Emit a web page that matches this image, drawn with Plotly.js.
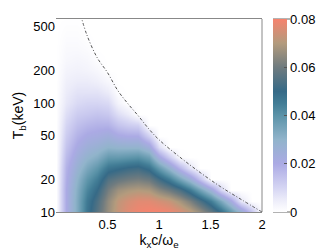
<!DOCTYPE html>
<html><head><meta charset="utf-8">
<script src="https://cdn.plot.ly/plotly-3.0.1.min.js"></script>
<style>html,body{margin:0;padding:0;background:#fff}#plot{width:332px;height:250px}</style>
</head><body><div id="plot"></div>
<script>
// k_x c / omega_e grid
const kx = [0,0.1,0.2,0.3,0.4,0.5,0.6,0.7,0.8,0.9,1.0,1.1,1.2,1.3,1.4,1.5,1.6,1.7,1.8,1.9,2.0];
// T_b (keV) grid
const Tb = [10,12.59,15.85,19.95,25.12,31.62,39.81,50.12,63.1,79.43,100,125.9,158.5,199.5,251.2,316.2,398.1,501.2,631];
// growth rate values (rows follow Tb, columns follow kx)
const growth = [
 [0,0.02,0.033,0.047,0.056,0.066,0.073,0.077,0.079,0.08,0.08,0.079,0.076,0.072,0.066,0.058,0.049,0.039,0.028,0.014,0],
 [0,0.02,0.033,0.046,0.054,0.065,0.072,0.075,0.077,0.077,0.075,0.073,0.068,0.062,0.054,0.045,0.034,0.022,0.006,0,0],
 [0,0.02,0.032,0.043,0.05,0.061,0.067,0.069,0.07,0.069,0.064,0.06,0.054,0.046,0.036,0.025,0.01,0,0,0,0],
 [0,0.019,0.03,0.039,0.045,0.055,0.058,0.06,0.061,0.059,0.052,0.045,0.035,0.026,0.014,0,0,0,0,0,0],
 [0,0.018,0.027,0.034,0.039,0.047,0.049,0.051,0.052,0.048,0.038,0.029,0.017,0.007,0,0,0,0,0,0,0],
 [0,0.016,0.024,0.029,0.032,0.038,0.038,0.039,0.04,0.036,0.022,0.012,0.001,0,0,0,0,0,0,0,0],
 [0,0.014,0.021,0.025,0.027,0.03,0.029,0.029,0.029,0.024,0.008,0,0,0,0,0,0,0,0,0,0],
 [0,0.012,0.018,0.021,0.022,0.024,0.021,0.02,0.02,0.011,0,0,0,0,0,0,0,0,0,0,0],
 [0,0.01,0.015,0.017,0.018,0.018,0.014,0.012,0.011,0,0,0,0,0,0,0,0,0,0,0,0],
 [0,0.008,0.012,0.013,0.014,0.013,0.008,0.005,0,0,0,0,0,0,0,0,0,0,0,0,0],
 [0,0.006,0.009,0.01,0.01,0.009,0.003,0,0,0,0,0,0,0,0,0,0,0,0,0,0],
 [0,0.005,0.007,0.007,0.007,0.005,0.0005,0,0,0,0,0,0,0,0,0,0,0,0,0,0],
 [0,0.004,0.005,0.005,0.004,0.002,0,0,0,0,0,0,0,0,0,0,0,0,0,0,0],
 [0,0.003,0.0035,0.003,0.002,0,0,0,0,0,0,0,0,0,0,0,0,0,0,0,0],
 [0,0.002,0.0025,0.002,0.0005,0,0,0,0,0,0,0,0,0,0,0,0,0,0,0,0],
 [0,0.0015,0.0015,0.001,0,0,0,0,0,0,0,0,0,0,0,0,0,0,0,0,0],
 [0,0.001,0.001,0.0003,0,0,0,0,0,0,0,0,0,0,0,0,0,0,0,0,0],
 [0,0.0005,0.0005,0,0,0,0,0,0,0,0,0,0,0,0,0,0,0,0,0,0],
 [0,0,0,0,0,0,0,0,0,0,0,0,0,0,0,0,0,0,0,0,0]
];
// boundary curve (dash-dot)
const edgeK = [0.24,0.3,0.4,0.5,0.6,0.7,0.8,0.9,1.0,1.2,1.4,1.6,1.8,2.0];
const edgeT = [640,420,260,190,130,98,76,58,46,32,23,17,13,10];
// tick labels
const xTicks = [0.5,1,1.5,2];
const xTickText = ['0.5','1','1.5','2'];
const yTicks = [10,20,50,100,200,500];
const yTickText = ['10','20','50','100','200','500'];
const cbTicks = [0,0.02,0.04,0.06,0.08];
const cbTickText = ['0','0.02','0.04','0.06','0.08'];

const L = 56, R = 262, T = 19, B = 212;
const px = v => (v - L) / (R - L);

const heat = {
  type: 'heatmap', x: kx, y: Tb, z: growth, zsmooth: 'best', zmin: 0, zmax: 0.08,
  colorscale: [[0,'#ffffff'],[0.0625,'#ececf9'],[0.125,'#d5d5f3'],[0.25,'#abaae4'],[0.375,'#91b4cb'],
               [0.5,'#5b93a8'],[0.5625,'#427d96'],[0.625,'#366a87'],[0.75,'#6f7b7f'],[0.875,'#b39b7d'],[1,'#f6836e']],
  hoverinfo: 'skip',
  colorbar: {
    x: px(273), xanchor: 'left', xref: 'paper', xpad: 0, ypad: 0,
    y: 0.5, yanchor: 'middle', len: 1, lenmode: 'fraction',
    thickness: 14, outlinewidth: 0, tickvals: cbTicks, ticktext: cbTickText,
    ticks: 'inside', ticklen: 3, tickcolor: '#555', tickwidth: 1,
    tickfont: {family: 'Liberation Sans, Arial, sans-serif', size: 13, color: '#000'}
  }
};
const edge = {
  type: 'scatter', mode: 'lines', x: edgeK, y: edgeT, line: {color: '#555', width: 1, dash: '3px,2px,1px,2px', shape: 'spline'},
  hoverinfo: 'skip', showlegend: false
};
const font = {family: 'Liberation Sans, Arial, sans-serif', size: 13, color: '#000'};
const layout = {
  width: 332, height: 250, margin: {l: L, r: 332 - R, t: T, b: 250 - B, pad: 0, autoexpand: false},
  paper_bgcolor: '#fff', plot_bgcolor: '#fff', font: font, showlegend: false,
  xaxis: {range: [0, 2], tickvals: xTicks, ticktext: xTickText, showgrid: false, zeroline: false,
          showline: true, mirror: true, linecolor: '#888', linewidth: 1, ticks: '', automargin: false,
          title: {text: 'k<sub>x</sub>c/ω<sub>e</sub>', font: {size: 14}, standoff: 3}},
  yaxis: {type: 'log', range: [1, 2.77], tickvals: yTicks, ticktext: yTickText, showgrid: false, zeroline: false,
          showline: false, ticks: '', automargin: false,
          title: {text: 'T<sub>b</sub>(keV)', font: {size: 14}, standoff: 6}},
  shapes: [
    {type: 'line', xref: 'paper', yref: 'paper', x0: 1, x1: 1, y0: 0, y1: 1, line: {color: '#888', width: 1}},
    {type: 'line', xref: 'paper', yref: 'paper', x0: px(273), x1: px(290), y0: 0, y1: 0, line: {color: '#666', width: 1}},
    {type: 'line', xref: 'paper', yref: 'paper', x0: px(273), x1: px(290), y0: 1, y1: 1, line: {color: '#666', width: 1}}
  ]
};
Plotly.newPlot('plot', [heat, edge], layout, {displayModeBar: false, staticPlot: true});
</script></body></html>
